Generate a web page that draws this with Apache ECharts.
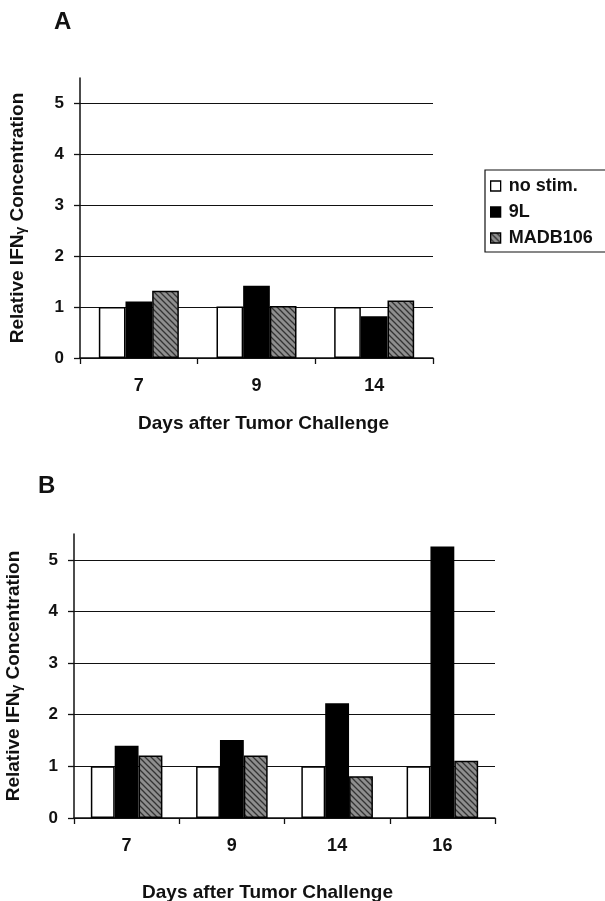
<!DOCTYPE html>
<html>
<head>
<meta charset="utf-8">
<title>IFNg</title>
<script src="https://cdn.jsdelivr.net/npm/echarts@6/dist/echarts.min.js"></script>
<style>
  * { margin: 0; padding: 0; }
  html, body { width: 100%; height: 100%; background: #fff; }
  #main { width: 605px; height: 901px; }
</style>
</head>
<body>
<div id="main"></div>
<script>
  // data
  const daysA = ['7', '9', '14'];
  const noStimA = [1.0, 1.01, 1.0];
  const l9A = [1.11, 1.42, 0.82];
  const madbA = [1.32, 1.02, 1.13];

  const daysB = ['7', '9', '14', '16'];
  const noStimB = [1.0, 1.0, 1.0, 1.0];
  const l9B = [1.4, 1.51, 2.22, 5.26];
  const madbB = [1.21, 1.21, 0.81, 1.11];

  const names = ['no stim.', '9L', 'MADB106'];

  const FONT = '"Liberation Sans", Arial, sans-serif';

  // gray hatched fill for MADB106
  const hatch = () => {
    const c = document.createElement('canvas');
    c.width = 6; c.height = 6;
    const g = c.getContext('2d');
    g.fillStyle = '#8e8e8e';
    g.fillRect(0, 0, 6, 6);
    g.strokeStyle = '#333';
    g.lineWidth = 1.3;
    g.beginPath();
    g.moveTo(0, 0); g.lineTo(6, 6);
    g.moveTo(-1, 5); g.lineTo(1, 7);
    g.moveTo(5, -1); g.lineTo(7, 1);
    g.stroke();
    return c;
  };
  const madbFill = { image: hatch(), repeat: 'repeat' };

  const yAxis = (idx, gap) => ({
    type: 'value', gridIndex: idx, min: 0, max: 5.5, interval: 1,
    name: '{a|Relative IFN}{s|γ}{a| Concentration}',
    nameLocation: 'middle', nameGap: gap,
    nameTextStyle: {
      rich: {
        a: { fontFamily: FONT, fontWeight: 'bold', fontSize: 19, color: '#111' },
        s: { fontFamily: FONT, fontWeight: 'bold', fontSize: 14, color: '#111', padding: [7, 0, 0, 0] }
      }
    },
    axisLine: { show: true, lineStyle: { color: '#111', width: 1.5 } },
    axisTick: { show: true, inside: false, length: 6, lineStyle: { color: '#111', width: 1.3 } },
    axisLabel: {
      margin: 16, fontFamily: FONT, fontWeight: 'bold', fontSize: 17, color: '#111',
      showMaxLabel: false,
      formatter: v => (v % 1 === 0 ? String(v) : '')
    },
    splitLine: { show: true, showMaxLine: false, lineStyle: { color: '#111', width: 1.2 } }
  });

  const xAxis = (idx, cats, gap, pad) => ({
    type: 'category', gridIndex: idx, data: cats,
    name: 'Days after Tumor Challenge',
    nameLocation: 'middle', nameGap: gap,
    nameTextStyle: { fontFamily: FONT, fontWeight: 'bold', fontSize: 19, color: '#111', padding: pad },
    axisLine: { show: true, lineStyle: { color: '#111', width: 1.5 } },
    axisTick: { show: true, inside: false, length: 6, lineStyle: { color: '#111', width: 1.3 } },
    axisLabel: { margin: 19, fontFamily: FONT, fontWeight: 'bold', fontSize: 18, color: '#111' }
  });

  const bars = (idx, vals) => vals.map((d, i) => ({
    name: names[i], type: 'bar', xAxisIndex: idx, yAxisIndex: idx, data: d,
    barGap: 0, barCategoryGap: '32%',
    itemStyle: {
      color: i === 0 ? '#fff' : i === 1 ? '#000' : madbFill,
      borderColor: '#000', borderWidth: 1.5
    },
    emphasis: { disabled: true }
  }));

  const chart = echarts.init(document.getElementById('main'));
  chart.setOption({
    backgroundColor: '#fff',
    animation: false,
    title: [
      { text: 'A', left: 49, top: 5, textStyle: { fontFamily: FONT, fontWeight: 'bold', fontSize: 24, color: '#111' } },
      { text: 'B', left: 33, top: 469, textStyle: { fontFamily: FONT, fontWeight: 'bold', fontSize: 24, color: '#111' } }
    ],
    legend: {
      data: names, orient: 'vertical', left: 485, top: 170,
      itemWidth: 10, itemHeight: 10, itemGap: 8,
      padding: [7, 14, 5, 5],
      borderColor: '#111', borderWidth: 1.2,
      icon: 'rect',
      textStyle: { fontFamily: FONT, fontWeight: 'bold', fontSize: 18, color: '#111', padding: [0, 0, 0, 3] },
      itemStyle: { borderColor: '#000', borderWidth: 1.3 }
    },
    grid: [
      { left: 80, right: 172, top: 78, bottom: 543, outerBoundsMode: 'none' },
      { left: 74, right: 110, top: 534, bottom: 83, outerBoundsMode: 'none' }
    ],
    xAxis: [xAxis(0, daysA, 56, [0, 0, 0, 14]), xAxis(1, daysB, 65, [0, 34, 0, 0])],
    yAxis: [yAxis(0, 52), yAxis(1, 50)],
    series: [
      ...bars(0, [noStimA, l9A, madbA]),
      ...bars(1, [noStimB, l9B, madbB])
    ]
  });
</script>
</body>
</html>
